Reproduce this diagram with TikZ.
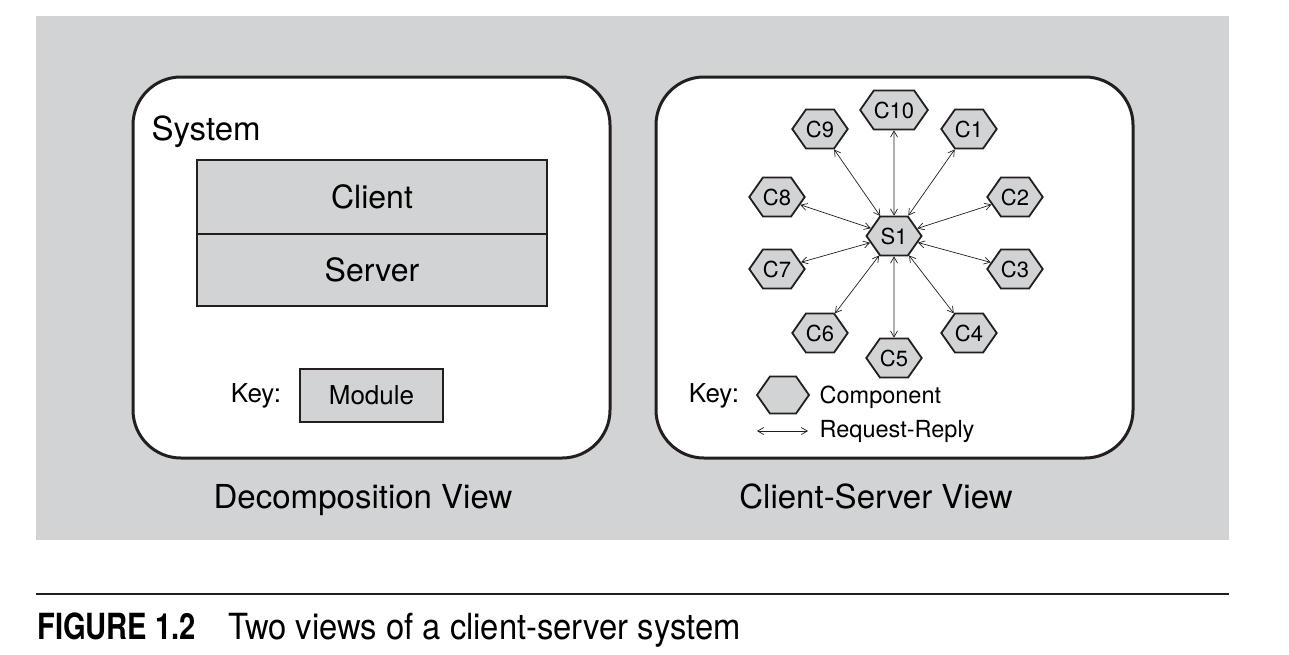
\documentclass[tikz,border=0pt]{standalone}
\usepackage{fontspec}
\setmainfont{TeX Gyre Heros}
\usepackage{xcolor}
\usetikzlibrary{arrows.meta, shapes.symbols}
\definecolor{bggray}{HTML}{D1D3D4}
\definecolor{ink}{HTML}{231F20}

\begin{document}
\begin{tikzpicture}[x=1pt, y=-1pt,
    hexa/.style={signal, signal to=east and west, signal pointer angle=110, draw=ink, line width=1.8pt, fill=bggray, inner sep=0pt, minimum width=55pt, minimum height=39pt, font=\fontsize{22}{24}\selectfont},
    module/.style={draw=ink, line width=2pt, fill=bggray, inner sep=0pt, font=\fontsize{32}{36}\selectfont},
    rr/.style={draw=ink, line width=0.7pt, {Straight Barb[length=6pt,width=7pt]}-{Straight Barb[length=6pt,width=7pt]}},
    view/.style={draw=ink, line width=3pt, fill=white, rounded corners=48pt}]
    \useasboundingbox (0,0) rectangle (1289,654);
    \fill[bggray] (36,16) rectangle (1229,540);
    \draw[view] (133,77) rectangle (610,458);
    \draw[view] (656,77) rectangle (1133,458);
    % decomposition view
    \node[anchor=base west, font=\fontsize{33}{36}\selectfont] (sys) at (148,140) {System};
    \node[module, minimum width=350pt, minimum height=74pt] (client) at (372,197) {Client};
    \node[module, minimum width=350pt, minimum height=72pt] (server) at (372,270) {Server};
    \node[font=\fontsize{26}{30}\selectfont] (key1) at (256,396) {Key:};
    \node[module, minimum width=143pt, minimum height=53pt, font=\fontsize{26}{30}\selectfont] (modkey) at (371.5,395.5) {Module};
    \node[anchor=base, font=\fontsize{33}{36}\selectfont] (t1) at (363,508) {Decomposition View};
    % client-server view
    \node[hexa] (S1) at (894,236) {S1};
    \foreach \n/\x/\y in {C1/969/129, C2/1015/197, C3/1015/269, C4/969/333, C5/894/358,
                          C6/820/333, C7/777/269, C8/777/197, C9/820/129, C10/894/110} {
        \node[hexa] (\n) at (\x,\y) {\n};
        \draw[rr] (S1) -- (\n);
    }
    \node[font=\fontsize{26}{30}\selectfont] (key2) at (714,396) {Key:};
    \node[hexa, minimum width=52pt, minimum height=37pt] (hexkey) at (783,395) {};
    \node[anchor=west, font=\fontsize{23.5}{28}\selectfont] (comp) at (816,397) {Component};
    \coordinate (rl) at (757,431);
    \coordinate (rr) at (808,431);
    \draw[rr] (rl) -- (rr);
    \node[anchor=west, font=\fontsize{23.5}{28}\selectfont] (req) at (816,431) {Request-Reply};
    \node[anchor=base, font=\fontsize{33}{36}\selectfont] (t2) at (876,508) {Client-Server View};
    % caption
    \coordinate (cl) at (36,594);
    \coordinate (cr) at (1229,594);
    \draw[ink, line width=2pt] (cl) -- (cr);
    \node[anchor=base west, inner sep=0pt, font=\fontsize{36}{40}\selectfont\bfseries] (fig) at (37,639) {\scalebox{0.81}[1]{FIGURE 1.2}};
    \node[anchor=base west, inner sep=0pt, font=\fontsize{36}{40}\selectfont] (cap) at (228,639) {\scalebox{0.91}[1]{Two views of a client-server system}};
\end{tikzpicture}
\end{document}
